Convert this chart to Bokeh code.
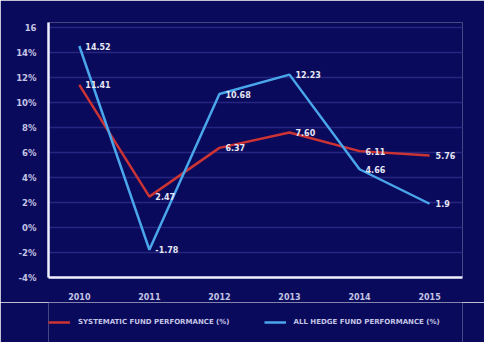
import re
from bokeh.plotting import figure
from bokeh.layouts import column
from bokeh.embed import file_html
from bokeh.resources import INLINE
from bokeh.models import FixedTicker, Legend, LegendItem, ColumnDataSource, Range1d
from bokeh.core.properties import value

years = [2010, 2011, 2012, 2013, 2014, 2015]
systematic = [11.41, 2.47, 6.37, 7.60, 6.11, 5.76]
hedge = [14.52, -1.78, 10.68, 12.23, 4.66, 1.9]
sys_labels = ["11.41", "2.47", "6.37", "7.60", "6.11", "5.76"]
hedge_labels = ["14.52", "-1.78", "10.68", "12.23", "4.66", "1.9"]
y_ticks = [-4, -2, 0, 2, 4, 6, 8, 10, 12, 14, 16]
y_tick_labels = ["-4%", "-2%", "0%", "2%", "4%", "6%", "8%", "10%", "12%", "14%", "16"]
series_names = ["SYSTEMATIC FUND PERFORMANCE (%)", "ALL HEDGE FUND PERFORMANCE (%)"]

BG = "#0a0a5c"
TXT = "#c4c4e4"
FONT = "DejaVu Sans"
RED = "#cc3333"
BLUE = "#4aa6ea"

p = figure(width=484, height=302, output_backend="svg", toolbar_location=None,
           x_range=Range1d(2009.56, 2015.47), y_range=Range1d(-4, 16.4),
           min_border_left=48, min_border_right=22, min_border_top=22, min_border_bottom=25)
p.background_fill_color = BG
p.border_fill_color = BG
p.outline_line_color = None

p.xgrid.grid_line_color = None
p.ygrid.grid_line_color = "#262680"
p.ygrid.grid_line_width = 1.5

p.yaxis.ticker = FixedTicker(ticks=y_ticks)
p.yaxis.major_label_overrides = {t: l for t, l in zip(y_ticks, y_tick_labels)}
p.xaxis.ticker = FixedTicker(ticks=years)
for ax in (p.xaxis, p.yaxis):
    ax.axis_line_color = "#f0f0ff"
    ax.axis_line_width = 2.5
    ax.major_tick_line_color = None
    ax.minor_tick_line_color = None
    ax.major_label_text_color = TXT
    ax.major_label_text_font = FONT
    ax.major_label_text_font_style = "bold"
p.yaxis.major_label_text_font_size = "8.5px"
p.xaxis.major_label_text_font_size = "8px"
p.yaxis.major_label_standoff = 6
p.xaxis.major_label_standoff = 9

src_s = ColumnDataSource(dict(x=years, y=systematic, t=sys_labels))
src_h = ColumnDataSource(dict(x=years, y=hedge, t=hedge_labels))

p.line("x", "y", source=src_s, line_color=RED, line_width=2.5)
p.line("x", "y", source=src_h, line_color=BLUE, line_width=2.5)

for src in (src_s, src_h):
    p.text("x", "y", text="t", source=src, x_offset=6, text_align="left",
           text_baseline="middle", text_color="#e6e6f4", text_font=value(FONT),
           text_font_style="bold", text_font_size="8px")

# legend strip below the chart
lg = figure(width=484, height=40, output_backend="svg", toolbar_location=None,
            x_axis_location=None, y_axis_location=None,
            x_range=Range1d(0, 1), y_range=Range1d(0, 1),
            min_border_left=48, min_border_right=22, min_border_top=0, min_border_bottom=0)
lg.grid.grid_line_color = None
lg.outline_line_color = None
lg.background_fill_color = BG
lg.border_fill_color = BG
# legend proxies drawn outside the visible range
e1 = lg.line(x=[5, 6], y=[5, 5], line_color=RED, line_width=2.5)
e2 = lg.line(x=[5, 6], y=[5, 5], line_color=BLUE, line_width=2.5)
legend = Legend(items=[LegendItem(label=series_names[0], renderers=[e1]),
                       LegendItem(label=series_names[1], renderers=[e2])],
                orientation="horizontal", location=(0, 15),
                background_fill_alpha=0, border_line_color=None,
                label_text_color=TXT, label_text_font=FONT, label_text_font_style="bold",
                label_text_font_size="7px", glyph_width=22, glyph_height=10,
                label_standoff=8, spacing=34, padding=0, margin=0)
lg.add_layout(legend, "center")

layout = column(p, lg, spacing=0)
html = file_html(layout, INLINE)
html = re.sub(r"<body[^>]*>", "<body style=\"background:%s;\">" % BG, html, count=1)
open("out.html", "w").write(html)
